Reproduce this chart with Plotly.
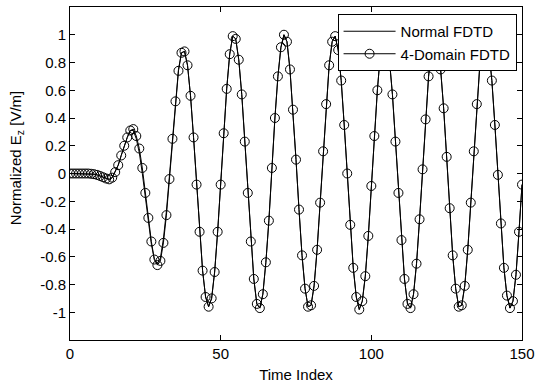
import plotly.graph_objects as go

time_index = list(range(0, 151))

domain4_fdtd = [
    0.0, 0.0, 0.0, 0.0, 0.0, 0.0, 0.0, -0.002, -0.005, -0.01,
    -0.018, -0.027, -0.036, -0.042, -0.03, 0.01, 0.06, 0.13, 0.20, 0.26,
    0.31, 0.32, 0.27, 0.18, 0.04, -0.14, -0.32, -0.49, -0.62, -0.66,
    -0.63, -0.50, -0.30, -0.04, 0.25, 0.52, 0.74, 0.87, 0.88, 0.78,
    0.56, 0.26, -0.08, -0.42, -0.70, -0.89, -0.96, -0.90, -0.71, -0.42,
    -0.08, 0.29, 0.61, 0.86, 0.99, 0.97, 0.82, 0.57, 0.23, -0.14,
    -0.49, -0.76, -0.94, -0.97, -0.87, -0.64, -0.34, 0.04, 0.40, 0.70,
    0.91, 1.00, 0.95, 0.75, 0.46, 0.10, -0.26, -0.59, -0.83, -0.96,
    -0.95, -0.81, -0.55, -0.21, 0.16, 0.50, 0.78, 0.95, 0.99, 0.89,
    0.67, 0.35, 0.00, -0.37, -0.68, -0.89, -0.98, -0.92, -0.74, -0.45,
    -0.09, 0.27, 0.60, 0.86, 0.99, 0.97, 0.82, 0.57, 0.23, -0.14,
    -0.48, -0.76, -0.94, -0.97, -0.87, -0.65, -0.33, 0.03, 0.39, 0.70,
    0.91, 1.00, 0.95, 0.75, 0.47, 0.12, -0.25, -0.59, -0.83, -0.96,
    -0.95, -0.81, -0.55, -0.21, 0.16, 0.50, 0.78, 0.95, 0.99, 0.89,
    0.67, 0.35, -0.01, -0.36, -0.68, -0.88, -0.97, -0.92, -0.73, -0.42,
    -0.08,
]

normal_fdtd = [
    0.0, 0.0, 0.0, 0.0, 0.0, 0.0, 0.0, -0.002, -0.005, -0.01,
    -0.018, -0.027, -0.036, -0.042, -0.03, 0.01, 0.06, 0.13, 0.20, 0.26,
    0.31, 0.31, 0.25, 0.15, 0.00, -0.18, -0.35, -0.51, -0.62, -0.65,
    -0.61, -0.47, -0.27, -0.02, 0.26, 0.53, 0.75, 0.87, 0.88, 0.78,
    0.56, 0.26, -0.08, -0.42, -0.70, -0.89, -0.96, -0.90, -0.71, -0.42,
    -0.08, 0.29, 0.61, 0.86, 0.99, 0.97, 0.82, 0.57, 0.23, -0.14,
    -0.49, -0.76, -0.94, -0.97, -0.87, -0.64, -0.34, 0.04, 0.40, 0.70,
    0.91, 1.00, 0.95, 0.75, 0.46, 0.10, -0.26, -0.59, -0.83, -0.96,
    -0.95, -0.81, -0.55, -0.21, 0.16, 0.50, 0.78, 0.95, 0.99, 0.89,
    0.67, 0.35, 0.00, -0.37, -0.68, -0.89, -0.98, -0.92, -0.74, -0.45,
    -0.09, 0.27, 0.60, 0.86, 0.99, 0.97, 0.82, 0.57, 0.23, -0.14,
    -0.48, -0.76, -0.94, -0.97, -0.87, -0.65, -0.33, 0.03, 0.39, 0.70,
    0.91, 1.00, 0.95, 0.75, 0.47, 0.12, -0.25, -0.59, -0.83, -0.96,
    -0.95, -0.81, -0.55, -0.21, 0.16, 0.50, 0.78, 0.95, 0.99, 0.89,
    0.67, 0.35, -0.01, -0.36, -0.68, -0.88, -0.97, -0.92, -0.73, -0.42,
    -0.08,
]

x_tickvals = [0, 50, 100, 150]
x_ticktext = ["0", "50", "100", "150"]
y_tickvals = [1, 0.8, 0.6, 0.4, 0.2, 0, -0.2, -0.4, -0.6, -0.8, -1]
y_ticktext = ["1", "0.8", "0.6", "0.4", "0.2", "0", "-0.2", "-0.4", "-0.6", "-0.8", "-1"]

FONT = "Liberation Sans, Arial, Helvetica, sans-serif"
FS = 15

fig = go.Figure()
fig.add_trace(go.Scatter(
    x=time_index, y=normal_fdtd, mode="lines", name="Normal FDTD",
    line=dict(color="black", width=1),
))
fig.add_trace(go.Scatter(
    x=time_index, y=domain4_fdtd, mode="lines+markers", name="4-Domain FDTD",
    line=dict(color="black", width=1),
    marker=dict(symbol="circle-open", size=9, color="black", line=dict(width=1, color="black")),
))

axis_common = dict(
    showline=True, linecolor="black", linewidth=1, mirror="ticks",
    ticks="inside", ticklen=5, tickcolor="black", tickwidth=1,
    showgrid=False, zeroline=False, automargin=False,
    tickfont=dict(family=FONT, size=FS, color="black"),
)

fig.update_layout(
    width=535, height=383,
    margin=dict(l=70, r=13, t=7, b=43),
    paper_bgcolor="white", plot_bgcolor="white",
    font=dict(family=FONT, size=FS, color="black"),
    xaxis=dict(range=[0, 150], tickvals=x_tickvals, ticktext=x_ticktext,
               title=dict(text="Time Index", font=dict(family=FONT, size=FS, color="black"), standoff=8),
               **axis_common),
    yaxis=dict(range=[-1.2, 1.2], tickvals=y_tickvals, ticktext=y_ticktext,
               **axis_common),
    legend=dict(x=0.988, y=0.979, xanchor="right", yanchor="top",
                bgcolor="white", bordercolor="black", borderwidth=1,
                itemwidth=52, font=dict(family=FONT, size=FS, color="black"),
                tracegroupgap=0),
    showlegend=True,
    annotations=[dict(
        text="Normalized E<sub>z</sub> [V/m]", textangle=-90,
        xref="paper", yref="paper", x=-0.118, y=0.545,
        xanchor="center", yanchor="middle", showarrow=False,
        font=dict(family=FONT, size=FS, color="black"),
    )],
)

fig.write_html("out.html", config={"displayModeBar": False},
               post_script="document.body.style.margin='0';document.body.style.padding='0';")
